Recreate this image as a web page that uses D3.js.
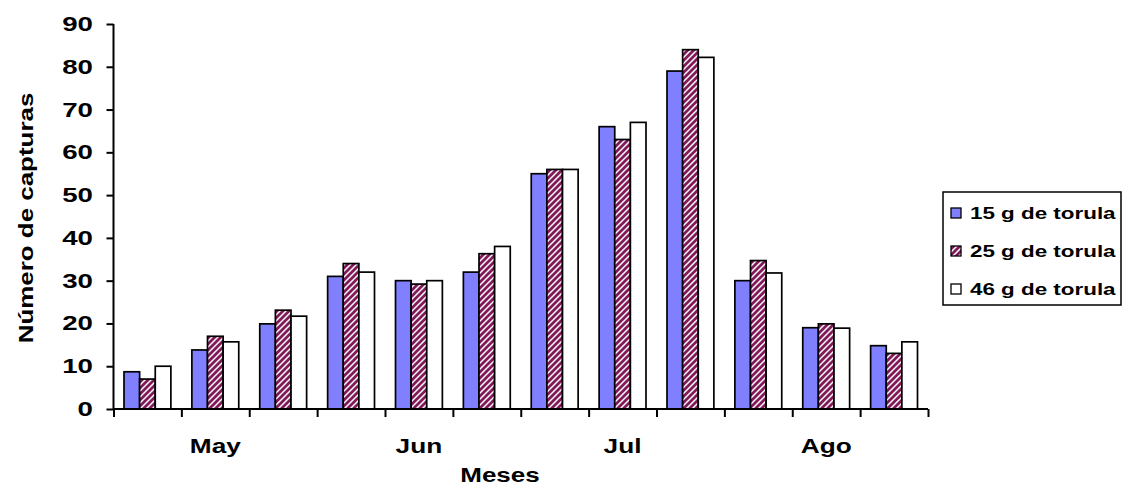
<!DOCTYPE html>
<html>
<head>
<meta charset="utf-8">
<script src="https://cdn.jsdelivr.net/npm/d3@7"></script>
<style>
  html, body { margin: 0; padding: 0; background: #fff; }
  svg text { font-family: "Liberation Sans", Arial, sans-serif; font-weight: bold; fill: #000; }
</style>
</head>
<body>
<svg id="chart" width="1123" height="486"></svg>
<script>
// ---- Data ----
const groups = ["g1","g2","g3","g4","g5","g6","g7","g8","g9","g10","g11","g12"];
const monthLabels = ["May", "Jun", "Jul", "Ago"];
const monthGroupIndex = [1, 4, 7, 10];
const seriesNames = ["15 g de torula", "25 g de torula", "46 g de torula"];
const s15 = [8.7, 13.8, 19.9, 31, 30, 32, 55, 66, 79, 30, 19, 14.8];
const s25 = [7, 17, 23.1, 34, 29.2, 36.3, 56, 63, 84, 34.7, 19.9, 13];
const s46 = [10, 15.7, 21.7, 32, 30, 38, 56, 67, 82.2, 31.8, 18.9, 15.7];
const yTicks = [0, 10, 20, 30, 40, 50, 60, 70, 80, 90];
const yTitle = "Número de capturas";
const xTitle = "Meses";

const seriesValues = [s15, s25, s46];

// ---- Layout ----
const svg = d3.select("#chart");
const X0 = 113.5, X1 = 928, Y0 = 409, YTOP = 24;

const x = d3.scaleBand().domain(groups).range([X0, X1]).paddingInner(0).paddingOuter(0);
const gw = x.bandwidth();
const xs = d3.scaleBand().domain(seriesNames).range([10.5, gw - 10.5]).paddingInner(0);
const y = d3.scaleLinear().domain([0, 90]).range([Y0, YTOP]);

// pattern
const defs = svg.append("defs");
const pat = defs.append("pattern").attr("id", "hatch").attr("patternUnits", "userSpaceOnUse")
  .attr("width", 6).attr("height", 6);
pat.append("rect").attr("width", 6).attr("height", 6).attr("fill", "#fff");
pat.append("path").attr("d", "M-1,7 L7,-1 M-4,4 L4,-4 M2,10 L10,2")
  .attr("stroke", "#82195a").attr("stroke-width", 2.8).attr("stroke-linecap", "square");

const fills = ["#8080ff", "url(#hatch)", "#ffffff"];

function stretchedText(sel, px, py, txt, size, anchor, sx, rot) {
  const g = sel.append("g").attr("transform", `translate(${px},${py})${rot ? " rotate(" + rot + ")" : ""} scale(${sx},1)`);
  g.append("text").attr("text-anchor", anchor).attr("font-size", size).text(txt);
  return g;
}

// bars
const data = [];
groups.forEach((g, gi) => {
  seriesNames.forEach((s, si) => data.push({ g, s, si, v: seriesValues[si][gi] }));
});
svg.append("g").selectAll("rect").data(data).join("rect")
  .attr("x", d => x(d.g) + xs(d.s))
  .attr("y", d => y(d.v))
  .attr("width", xs.bandwidth())
  .attr("height", d => Y0 - y(d.v))
  .attr("fill", d => fills[d.si])
  .attr("stroke", "#000")
  .attr("stroke-width", 1.7);

// y axis
const yAxis = d3.axisLeft(y).tickValues(yTicks).tickSize(7).tickFormat("");
const ya = svg.append("g").attr("transform", `translate(${X0},0)`).call(yAxis);
ya.selectAll("path,line").attr("stroke", "#000").attr("stroke-width", 2);
ya.select(".domain").attr("d", `M0,${YTOP}V${Y0}`);
yTicks.forEach(t => stretchedText(svg, 93, y(t) + 7, String(t), 19.5, "end", 1.42));

// x axis
const boundaries = d3.range(groups.length + 1);
const xb = d3.scaleLinear().domain([0, groups.length]).range([X0, X1]);
const xAxis = d3.axisBottom(xb).tickValues(boundaries).tickSize(8).tickFormat("");
const xa = svg.append("g").attr("transform", `translate(0,${Y0})`).call(xAxis);
xa.selectAll("path,line").attr("stroke", "#000").attr("stroke-width", 2);
xa.select(".domain").attr("d", `M${X0},0H${X1}`);

monthLabels.forEach((m, i) => {
  const gname = groups[monthGroupIndex[i]];
  stretchedText(svg, x(gname) + gw / 2, 452.5, m, 20.5, "middle", 1.28);
});

// titles
stretchedText(svg, 500, 482, xTitle, 20, "middle", 1.3);
stretchedText(svg, 33, 218, yTitle, 19.5, "middle", 1.33, -90);

// legend
const lg = svg.append("g");
lg.append("rect").attr("x", 943).attr("y", 192).attr("width", 178).attr("height", 113)
  .attr("fill", "#fff").attr("stroke", "#000").attr("stroke-width", 1.5);
const ly = d3.scalePoint().domain(seriesNames).range([213, 289]);
seriesNames.forEach((s, i) => {
  lg.append("rect").attr("x", 951).attr("y", ly(s) - 5).attr("width", 10).attr("height", 10)
    .attr("fill", fills[i]).attr("stroke", "#000").attr("stroke-width", 1.3);
  stretchedText(lg, 970, ly(s) + 5.8, s, 16, "start", 1.4);
});
</script>
</body>
</html>
